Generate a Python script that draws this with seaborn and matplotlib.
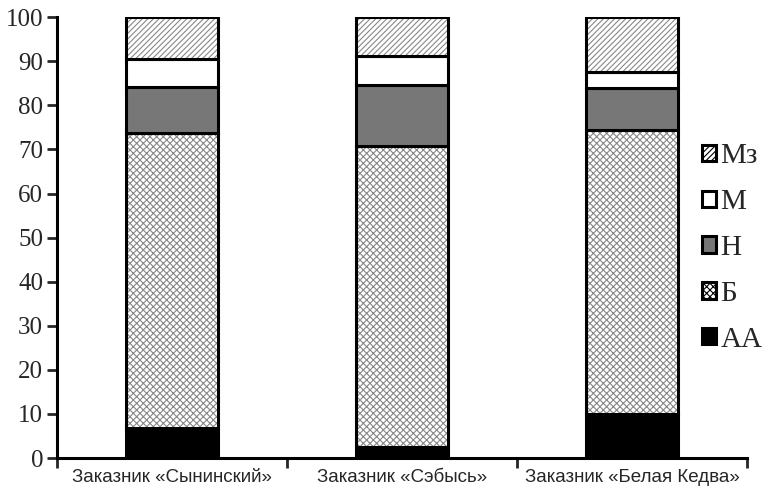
import numpy as np
import pandas as pd
import matplotlib
matplotlib.use("Agg")
import matplotlib.pyplot as plt
import seaborn as sns
from matplotlib.patches import Patch

# data (percent)
sites = ["Заказник «Сынинский»", "Заказник «Сэбысь»", "Заказник «Белая Кедва»"]
groups = ["АА", "Б", "Н", "М", "Мз"]
aa = [6.8, 2.5, 10.0]
b = [66.9, 68.2, 64.4]
n = [10.4, 13.9, 9.5]
m = [6.4, 6.6, 3.6]
mz = [9.5, 8.8, 12.5]

series = {"АА": aa, "Б": b, "Н": n, "М": m, "Мз": mz}
styles = {
    "АА": dict(color="black", hatch=None),
    "Б": dict(color="white", hatch="xxxxx"),
    "Н": dict(color="#777777", hatch=None),
    "М": dict(color="white", hatch=None),
    "Мз": dict(color="white", hatch="//////"),
}

sns.set_style("white")
plt.rcParams["hatch.linewidth"] = 0.8

fig = plt.figure(figsize=(7.76, 4.92), dpi=100)
ax = fig.add_axes([0.0735, 0.069, 0.8895, 0.896])

bottom = np.zeros(len(sites))
for g in groups:
    df = pd.DataFrame({"site": sites, "val": series[g]})
    st = styles[g]
    # fill + hatch in gray
    sns.barplot(data=df, x="site", y="val", ax=ax, color=st["color"], width=0.40,
                bottom=bottom, hatch=st["hatch"], edgecolor="#888888", linewidth=0,
                saturation=1, errorbar=None)
    # black outline
    sns.barplot(data=df, x="site", y="val", ax=ax, color="white", width=0.40,
                bottom=bottom, fill=False, edgecolor="black", linewidth=2.2,
                errorbar=None)
    bottom = bottom + np.array(series[g])

ax.set_xlim(-0.5, 2.5)
ax.set_ylim(0, 100)
ax.set_yticks(range(0, 101, 10))
ax.set_xlabel("")
ax.set_ylabel("")
for s in ["top", "right"]:
    ax.spines[s].set_visible(False)
for s in ["left", "bottom"]:
    ax.spines[s].set_linewidth(2.2)
    ax.spines[s].set_color("black")

ax.tick_params(axis="y", direction="out", length=7, width=2, left=True,
               labelsize=18, pad=3)
ax.tick_params(axis="x", which="major", length=0, pad=8, labelsize=13.5)
ax.set_xticks([-0.5, 0.5, 1.5, 2.5], minor=True)
ax.tick_params(axis="x", which="minor", direction="out", length=7, width=2, bottom=True)
for lab in ax.get_yticklabels():
    lab.set_family("Liberation Serif")
for lab in ax.get_xticklabels():
    lab.set_family("Liberation Sans")

handles = []
for g in reversed(groups):
    st = styles[g]
    handles.append(Patch(facecolor=st["color"], hatch=st["hatch"], edgecolor="black",
                         linewidth=2.2, label=g))
fig.legend(handles=handles, loc="center left", bbox_to_anchor=(0.905, 0.496),
           frameon=False, prop={"family": "Liberation Serif", "size": 21},
           handlelength=0.48, handleheight=0.48, handletextpad=0.15, labelspacing=0.68,
           borderaxespad=0, borderpad=0)

fig.savefig("out.png", dpi=100)
